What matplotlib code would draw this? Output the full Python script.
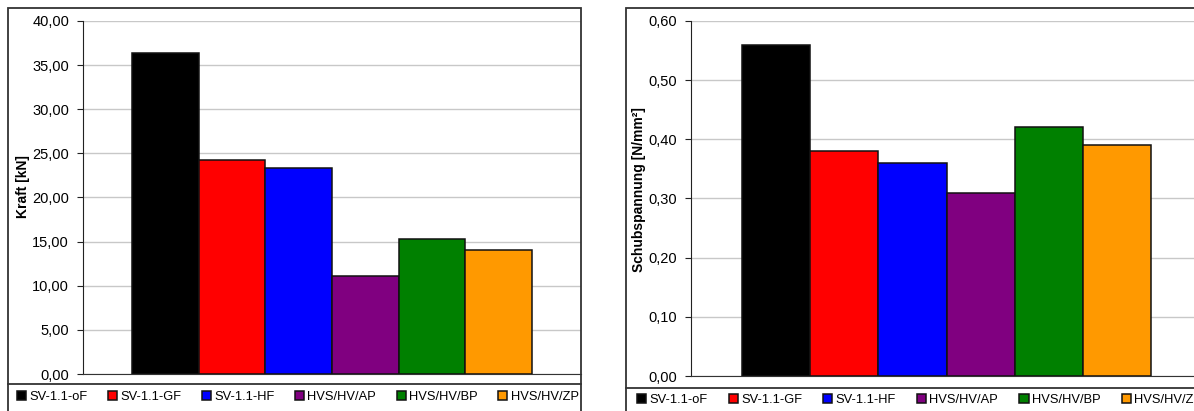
import numpy as np
import matplotlib
matplotlib.use('Agg')
import matplotlib.pyplot as plt
from matplotlib.patches import Rectangle
from matplotlib.lines import Line2D
from matplotlib.ticker import FuncFormatter, MultipleLocator

# === DATA ===
series = ['SV-1.1-oF', 'SV-1.1-GF', 'SV-1.1-HF', 'HVS/HV/AP', 'HVS/HV/BP', 'HVS/HV/ZP']
kraft = [36.4, 24.2, 23.3, 11.1, 15.3, 14.0]
schub = [0.56, 0.38, 0.36, 0.31, 0.42, 0.39]
colors = ['#000000', '#ff0000', '#0000ff', '#800080', '#008000', '#ff9900']

plt.rcParams['font.family'] = ['Liberation Sans', 'DejaVu Sans']

W, H = 1194, 411
fig = plt.figure(figsize=(W / 100, H / 100), dpi=100)
FRAME = '#333333'
GRID = '#c8c8c8'


def px(x0, y0, x1, y1):
    # pixel box (top-left origin) -> figure fraction rect
    return [x0 / W, 1 - y1 / H, (x1 - x0) / W, (y1 - y0) / H]


def comma(dec):
    return FuncFormatter(lambda v, p: f'{v:.{dec}f}'.replace('.', ','))


def draw(ax, vals, ymax, step, dec, ylabel, lab_x, lab_y, leg_x, leg_y, colsp):
    x = np.arange(len(vals))
    handles = ax.bar(x, vals, width=1.0, color=colors, edgecolor='#111111',
                     linewidth=1.1, zorder=3)
    ax.set_xlim(-1.24, len(vals) - 1 + 1.24)
    ax.set_ylim(0, ymax)
    ax.yaxis.set_major_locator(MultipleLocator(step))
    ax.yaxis.set_major_formatter(comma(dec))
    ax.set_xticks([])
    ax.grid(axis='y', color=GRID, linewidth=1.0, zorder=0)
    for s in ['top', 'right']:
        ax.spines[s].set_visible(False)
    ax.spines['left'].set_color('#222222')
    ax.spines['bottom'].set_color('#333333')
    ax.tick_params(axis='y', direction='out', length=4, width=0.8,
                   labelsize=10.5, pad=6, colors='#222222', labelcolor='black')
    ax.set_ylabel(ylabel, fontsize=10, fontweight='bold')
    ax.yaxis.set_label_coords(lab_x, lab_y)
    ax.legend(handles.patches, series, ncol=6, frameon=False,
              loc='center left', bbox_to_anchor=(leg_x, leg_y),
              bbox_transform=fig.transFigure, fontsize=9.3,
              handlelength=0.7, handleheight=0.7, handletextpad=0.25,
              columnspacing=colsp, borderpad=0, borderaxespad=0)


ax1 = fig.add_axes(px(83, 21, 581, 374))
draw(ax1, kraft, 40, 5, 2, 'Kraft [kN]', (30 - 83) / 498, 0.53,
     17 / W, 1 - 397 / H, 1.6)

ax2 = fig.add_axes(px(691, 21, 1202, 376))
draw(ax2, schub, 0.6, 0.1, 2, 'Schubspannung [N/mm²]', (646 - 691) / 511, 0.525,
     637 / W, 1 - 400 / H, 1.65)

# chart frames and legend separators
fig.add_artist(Rectangle((8 / W, -0.1), (581 - 8) / W, 1.1 - 8 / H,
                         transform=fig.transFigure, fill=False,
                         edgecolor=FRAME, linewidth=1.3))
fig.add_artist(Rectangle((626 / W, -0.1), 1.0, 1.1 - 8 / H,
                         transform=fig.transFigure, fill=False,
                         edgecolor=FRAME, linewidth=1.3))
fig.add_artist(Line2D([8 / W, 581 / W], [1 - 384 / H] * 2,
                      transform=fig.transFigure, color=FRAME, linewidth=1.3))
fig.add_artist(Line2D([626 / W, 1.0], [1 - 388 / H] * 2,
                      transform=fig.transFigure, color=FRAME, linewidth=1.3))

fig.savefig('out.png', dpi=100, facecolor='white')
